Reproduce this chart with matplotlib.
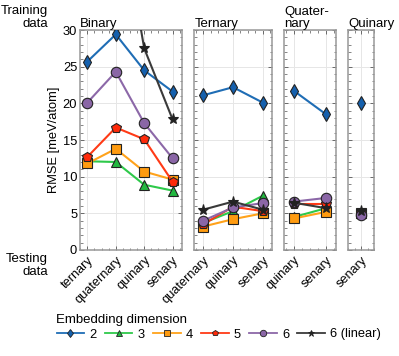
import numpy as np
import matplotlib
matplotlib.use("Agg")
import matplotlib.pyplot as plt
from matplotlib.ticker import MultipleLocator
from matplotlib.lines import Line2D

plt.rcParams['font.family'] = ['Liberation Sans', 'DejaVu Sans']

# ---- data ----
panel_titles = ["Binary", "Ternary", "Quater-\nnary", "Quinary"]
test_binary = ["ternary", "quaternary", "quinary", "senary"]
test_ternary = ["quaternary", "quinary", "senary"]
test_quaternary = ["quinary", "senary"]
test_quinary = ["senary"]

dims = ["2", "3", "4", "5", "6", "6 (linear)"]

binary_2 = [25.7, 29.4, 24.5, 21.6]
binary_3 = [12.1, 12.0, 8.9, 8.1]
binary_4 = [11.8, 13.8, 10.7, 9.6]
binary_5 = [12.7, 16.7, 15.1, 9.3]
binary_6 = [20.1, 24.3, 17.3, 12.5]
binary_6lin = [45.0, 50.0, 27.5, 17.8]

ternary_2 = [21.1, 22.2, 20.1]
ternary_3 = [3.7, 5.3, 7.4]
ternary_4 = [3.2, 4.2, 5.0]
ternary_5 = [3.5, 5.9, 5.3]
ternary_6 = [4.0, 5.8, 6.4]
ternary_6lin = [5.5, 6.6, 5.5]

quaternary_2 = [21.7, 18.5]
quaternary_3 = [4.5, 5.7]
quaternary_4 = [4.3, 5.2]
quaternary_5 = [6.3, 6.3]
quaternary_6 = [6.6, 7.1]
quaternary_6lin = [6.45, 5.7]

quinary_2 = [20.0]
quinary_3 = [5.0]
quinary_4 = [5.0]
quinary_5 = [5.0]
quinary_6 = [4.8]
quinary_6lin = [5.3]

panels = [
    (test_binary, [binary_2, binary_3, binary_4, binary_5, binary_6, binary_6lin]),
    (test_ternary, [ternary_2, ternary_3, ternary_4, ternary_5, ternary_6, ternary_6lin]),
    (test_quaternary, [quaternary_2, quaternary_3, quaternary_4, quaternary_5, quaternary_6, quaternary_6lin]),
    (test_quinary, [quinary_2, quinary_3, quinary_4, quinary_5, quinary_6, quinary_6lin]),
]

colors = ['#1f6db5', '#2ec94a', '#ffa21a', '#ff3a16', '#8c68a8', '#3a3a3a']
faces = ['#1560ad', '#22b840', '#ff9b10', '#ff2a0a', '#8a66a6', '#222222']
markers = ['d', '^', 's', 'p', 'o', '*']
msizes = [7, 7, 7, 7, 7.5, 8]

# ---- layout (pixels) ----
W, H = 399, 356
fig = plt.figure(figsize=(W / 100, H / 100), dpi=100)
top_px, bot_px = 30, 250
boxes = [(80, 181.7), (194.3, 271.7), (284.3, 336), (348.3, 374.3)]
xlims = [(-0.26, 3.32), (-0.30, 2.30), (-0.30, 1.31), (-0.5, 0.5)]

FS = 9.3
axes = []
for i, ((l, r), (cats, series)) in enumerate(zip(boxes, panels)):
    ax = fig.add_axes([l / W, 1 - bot_px / H, (r - l) / W, (bot_px - top_px) / H])
    x = np.arange(len(cats))
    for s, c, fc, m, ms in zip(series, colors, faces, markers, msizes):
        ax.plot(x, s, color=c, lw=1.5, marker=m, ms=ms, mfc=fc, mec='#222222', mew=0.8,
                clip_on=True, zorder=3)
    ax.set_xlim(*xlims[i])
    ax.set_ylim(0, 30)
    ax.set_xticks(x)
    ax.set_xticklabels(cats, rotation=45, ha='right', rotation_mode='anchor', fontsize=9.2)
    ax.xaxis.set_minor_locator(MultipleLocator(0.25))
    ax.yaxis.set_major_locator(MultipleLocator(5))
    ax.yaxis.set_minor_locator(MultipleLocator(1))
    ax.tick_params(which='both', direction='in', top=True, right=True, color='#555555')
    ax.tick_params(which='major', length=3, width=0.6)
    ax.tick_params(which='minor', length=1.8, width=0.5)
    ax.tick_params(axis='x', which='major', pad=3)
    ax.grid(True, which='major', color='#e6e6e6', lw=0.7, zorder=0)
    for sp in ax.spines.values():
        sp.set_color('#999999')
        sp.set_linewidth(1.1)
    if i == 0:
        ax.tick_params(axis='y', labelsize=FS, pad=2)
        ax.set_ylabel("RMSE [meV/atom]", fontsize=FS, labelpad=2)
    else:
        ax.set_yticklabels([])
    ax.set_title(panel_titles[i], loc='left', fontsize=FS + 0.2, pad=2, linespacing=0.95)
    axes.append(ax)

fig.text(48 / W, 1 - 5 / H, "Training\ndata", ha='right', va='top', fontsize=FS + 0.2, linespacing=1.1)
fig.text(48 / W, 1 - 253 / H, "Testing\ndata", ha='right', va='top', fontsize=FS + 0.2, linespacing=1.1)

handles = [Line2D([], [], color=c, lw=1.3, marker=m, ms=ms * 0.62, mfc=fc, mec='#222222', mew=0.6)
           for c, fc, m, ms in zip(colors, faces, markers, msizes)]
leg = fig.legend(handles, dims, ncol=6, loc='lower left', bbox_to_anchor=(41 / W, 0.0),
                 frameon=False, fontsize=FS, title="Embedding dimension", title_fontsize=FS + 0.2,
                 handlelength=2.15, handletextpad=0.4, columnspacing=0.62, borderpad=0.7,
                 labelspacing=0.2)
leg._legend_box.align = 'left'

fig.savefig("out.png", dpi=100)
